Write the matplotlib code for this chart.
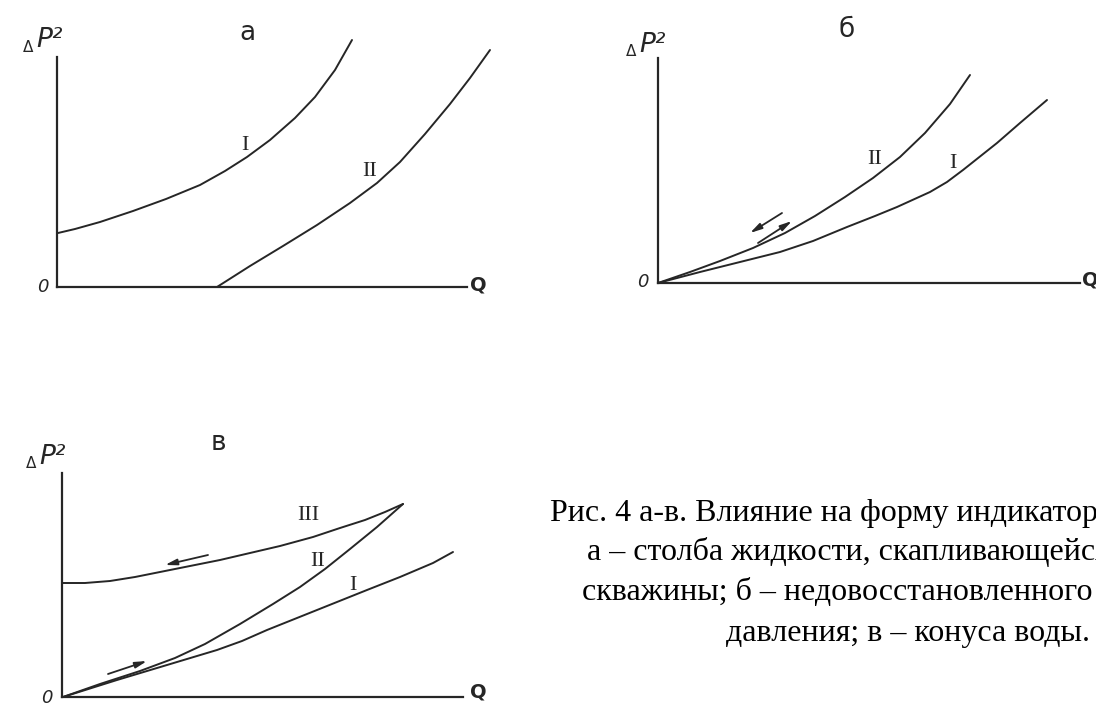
import matplotlib
matplotlib.use("Agg")
import matplotlib.pyplot as plt

W, H = 1096, 711
DPI = 100

# ---------------- data (arbitrary units) ----------------
# panel a
a_I_q = [1, 18, 43, 76, 109, 143, 168, 190, 213, 238, 258, 278, 295]
a_I_p = [54, 58, 65, 76, 88, 102, 116, 130, 147, 169, 190, 217, 247]
a_II_q = [160, 193, 226, 260, 293, 320, 343, 368, 393, 413, 433]
a_II_p = [0, 21, 41, 62, 84, 104, 125, 153, 183, 209, 237]

# panel б
b_II_q = [0, 32, 62, 95, 127, 157, 187, 215, 242, 267, 292, 312]
b_II_p = [0, 11, 22, 35, 50, 67, 86, 105, 126, 150, 179, 208]
b_I_q = [0, 42, 82, 122, 155, 189, 217, 239, 272, 289, 305, 339, 362, 389]
b_I_p = [0, 11, 21, 31, 42, 56, 67, 76, 91, 101, 113, 140, 160, 183]

# panel в
v_III_q = [1, 23, 48, 73, 98, 128, 158, 188, 218, 251, 278, 303, 323, 341]
v_III_p = [114, 114, 116, 120, 125, 131, 137, 144, 151, 160, 169, 177, 185, 193]
v_II_q = [1, 38, 78, 113, 143, 178, 211, 238, 263, 288, 315, 341]
v_II_p = [0, 13, 26, 39, 53, 73, 93, 110, 128, 148, 170, 193]
v_I_q = [1, 55, 105, 155, 180, 205, 230, 255, 280, 305, 338, 371, 391]
v_I_p = [0, 17, 32, 47, 56, 67, 77, 87, 97, 107, 120, 134, 145]

panel_letters = ["а", "б", "в"]
caption_lines = [
    "Рис. 4 а-в. Влияние на форму индикаторных линий:",
    "а – столба жидкости, скапливающейся на забое",
    "скважины; б – недовосстановленного пластового",
    "давления; в – конуса воды.",
]

INK = "#262626"

fig = plt.figure(figsize=(W / DPI, H / DPI), dpi=DPI)
fig.patch.set_facecolor("white")


def make_panel(ox, oy, xlen, ylen, xr, yr):
    ax = fig.add_axes([ox / W, (H - oy) / H, xr / W, yr / H])
    ax.set_xlim(0, xr)
    ax.set_ylim(0, yr)
    ax.patch.set_alpha(0)
    for s in ("top", "right"):
        ax.spines[s].set_visible(False)
    for s in ("left", "bottom"):
        ax.spines[s].set_linewidth(1.6)
        ax.spines[s].set_color(INK)
    ax.spines["left"].set_bounds(0, ylen)
    ax.spines["bottom"].set_bounds(0, xlen)
    ax.set_xticks([])
    ax.set_yticks([])
    return ax


def axis_labels(ax, zero_xy, q_xy, dp_xy, letter, letter_xy):
    ax.text(*zero_xy, "0", fontsize=13, style="italic", ha="center", va="center",
            color=INK, family="DejaVu Sans")
    ax.text(*q_xy, "Q", fontsize=14, ha="center", va="center", color=INK,
            family="DejaVu Sans", fontweight="bold")
    x, y = dp_xy
    ax.text(x - 17, y - 7, "Δ", fontsize=11, ha="center", va="center", color=INK,
            family="DejaVu Sans")
    ax.text(x - 9, y, "P²", fontsize=19, style="italic", ha="left", va="center",
            color=INK, family="DejaVu Sans")
    ax.text(*letter_xy, letter, fontsize=19, ha="center", va="center", color=INK,
            family="DejaVu Sans")


def roman(ax, xy, s):
    ax.text(*xy, s, fontsize=16, ha="center", va="center", color=INK,
            family="Liberation Serif")


def arrow(ax, start, end):
    ax.annotate("", xy=end, xytext=start,
                arrowprops=dict(arrowstyle="-|>,head_length=0.7,head_width=0.18",
                                lw=1.3, color=INK, shrinkA=0, shrinkB=0),
                annotation_clip=False)


LW = 1.4


def curve(ax, q, p):
    ax.plot(q, p, color=INK, lw=LW, clip_on=False,
            solid_capstyle="round", solid_joinstyle="round")


# ---- panel a ----
axa = make_panel(57, 287, 410, 230, 445, 255)
curve(axa, a_I_q, a_I_p)
curve(axa, a_II_q, a_II_p)
roman(axa, (188, 142), "I")
roman(axa, (313, 115), "II")
axis_labels(axa, (-14, 0), (421, 2), (-12, 247), panel_letters[0], (190, 254))

# ---- panel б ----
axb = make_panel(658, 283, 422, 225, 430, 235)
curve(axb, b_II_q, b_II_p)
curve(axb, b_I_q, b_I_p)
roman(axb, (217, 123), "II")
roman(axb, (295, 120), "I")
arrow(axb, (124, 70), (92, 50))
arrow(axb, (100, 40), (134, 62))
axis_labels(axb, (-15, 1), (432, 3), (-10, 238), panel_letters[1], (189, 253))

# ---- panel в ----
axv = make_panel(62, 697, 401, 224, 410, 230)
curve(axv, v_III_q, v_III_p)
curve(axv, v_II_q, v_II_p)
curve(axv, v_I_q, v_I_p)
roman(axv, (246, 182), "III")
roman(axv, (256, 135), "II")
roman(axv, (291, 112), "I")
arrow(axv, (146, 142), (103, 132))
arrow(axv, (46, 23), (85, 36))
axis_labels(axv, (-15, -1), (416, 5), (-14, 240), panel_letters[2], (156, 254))

# ---- caption ----
cap_x = [550, 587, 582, 726]
cap_y = [513, 552, 592, 633]
for s, x, y in zip(caption_lines, cap_x, cap_y):
    fig.text(x / W, 1 - y / H, s, fontsize=23, family="Liberation Serif",
             ha="left", va="center", color="black")

fig.savefig("out.png", dpi=DPI)
